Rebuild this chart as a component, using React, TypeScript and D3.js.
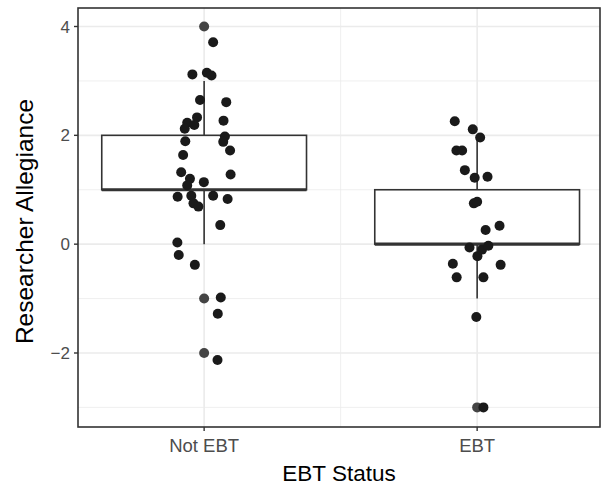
import React from 'react';
import * as d3 from 'd3';

// categories and box statistics
const groups = ["Not EBT", "EBT"];
const lowerWhisker = [0, -1];
const q1 = [1, 0];
const medians = [1, 0];
const q3 = [2, 1];
const upperWhisker = [3, 2];
const outliersNotEbt = [4, -1, -2];
const outliersEbt = [-3];

// jittered points (x offset from group centre, y value)
const notEbtDx = [0.033, -0.043, 0.010, 0.027, -0.015, 0.081, -0.026, -0.062, -0.036, -0.071, 0.071, 0.076, 0.070, 0.095, -0.069, -0.077, -0.084, -0.052, -0.062, -0.001, 0.097, -0.097, -0.047, -0.039, -0.021, 0.033, 0.086, 0.059, -0.098, -0.093, -0.034, 0.061, 0.050, 0.049];
const notEbtY = [3.71, 3.12, 3.15, 3.10, 2.65, 2.61, 2.33, 2.23, 2.19, 2.12, 2.27, 1.98, 1.88, 1.72, 1.89, 1.64, 1.32, 1.20, 1.08, 1.14, 1.28, 0.87, 0.89, 0.75, 0.69, 0.89, 0.83, 0.35, 0.03, -0.20, -0.38, -0.98, -1.28, -2.13];
const ebtDx = [-0.082, -0.016, 0.011, -0.076, -0.055, -0.045, -0.009, 0.038, -0.012, 0.000, 0.031, 0.082, -0.028, 0.001, 0.018, 0.041, -0.089, 0.086, -0.075, 0.023, -0.003, 0.023];
const ebtY = [2.26, 2.11, 1.96, 1.72, 1.72, 1.36, 1.22, 1.24, 0.75, 0.78, 0.26, 0.34, -0.06, -0.22, -0.10, -0.03, -0.36, -0.38, -0.61, -0.61, -1.34, -3.00];

const yTicks = [-2, 0, 2, 4];
const yMinor = [-3, -1, 1, 3];
const xMinor = [1.5];

const width = 602;
const height = 485;
const left = 78, right = 600, top = 8, bottom = 427;

export default function App() {
  const x = d3.scaleLinear().domain([0.538, 2.45]).range([left, right]);
  const y = d3.scaleLinear().domain([-3.36, 4.34]).range([bottom, top]);
  const boxHalf = 0.375;
  const font = "'Liberation Sans', Arial, Helvetica, sans-serif";
  const outliers = [outliersNotEbt, outliersEbt];
  const jitter = [
    notEbtY.map((v, i) => ({ dx: notEbtDx[i], v })),
    ebtY.map((v, i) => ({ dx: ebtDx[i], v })),
  ];

  return (
    <svg width={width} height={height} style={{ position: 'absolute', left: 0, top: 0 }} fontFamily={font}>
      <rect x={0} y={0} width={width} height={height} fill="white" />
      {/* grid */}
      {yMinor.map(t => (
        <line key={'ym' + t} x1={left} x2={right} y1={y(t)} y2={y(t)} stroke="#ebebeb" strokeWidth={0.8} />
      ))}
      {xMinor.map(t => (
        <line key={'xm' + t} x1={x(t)} x2={x(t)} y1={top} y2={bottom} stroke="#ebebeb" strokeWidth={0.8} />
      ))}
      {yTicks.map(t => (
        <line key={'yg' + t} x1={left} x2={right} y1={y(t)} y2={y(t)} stroke="#ebebeb" strokeWidth={1.6} />
      ))}
      {groups.map((g, i) => (
        <line key={'xg' + g} x1={x(i + 1)} x2={x(i + 1)} y1={top} y2={bottom} stroke="#ebebeb" strokeWidth={1.6} />
      ))}
      {/* boxplots */}
      {groups.map((g, i) => {
        const cx = x(i + 1);
        return (
          <g key={'box' + g} stroke="#333333">
            <line x1={cx} x2={cx} y1={y(upperWhisker[i])} y2={y(q3[i])} strokeWidth={1.6} />
            <line x1={cx} x2={cx} y1={y(q1[i])} y2={y(lowerWhisker[i])} strokeWidth={1.6} />
            <rect x={x(i + 1 - boxHalf)} y={y(q3[i])} width={x(i + 1 + boxHalf) - x(i + 1 - boxHalf)}
              height={y(q1[i]) - y(q3[i])} fill="white" strokeWidth={1.6} />
            <line x1={x(i + 1 - boxHalf)} x2={x(i + 1 + boxHalf)} y1={y(medians[i])} y2={y(medians[i])} strokeWidth={3.2} />
            {outliers[i].map((v, j) => (
              <circle key={j} cx={cx} cy={y(v)} r={5} fill="#444444" stroke="none" />
            ))}
          </g>
        );
      })}
      {/* jittered points */}
      {jitter.map((pts, i) => (
        <g key={'pts' + i} fill="#1a1a1a">
          {pts.map((p, j) => (
            <circle key={j} cx={x(i + 1 + p.dx)} cy={y(p.v)} r={5} />
          ))}
        </g>
      ))}
      {/* panel border */}
      <rect x={left} y={top} width={right - left} height={bottom - top} fill="none" stroke="#333333" strokeWidth={1.6} />
      {/* y axis */}
      {yTicks.map(t => (
        <g key={'yt' + t}>
          <line x1={left - 4} x2={left} y1={y(t)} y2={y(t)} stroke="#333333" strokeWidth={1.4} />
          <text x={left - 8} y={y(t)} dy="0.36em" textAnchor="end" fontSize={17} fill="#4d4d4d">
            {t < 0 ? '\u2212' + Math.abs(t) : t}
          </text>
        </g>
      ))}
      {/* x axis */}
      {groups.map((g, i) => (
        <g key={'xt' + g}>
          <line x1={x(i + 1)} x2={x(i + 1)} y1={bottom} y2={bottom + 4} stroke="#333333" strokeWidth={1.4} />
          <text x={x(i + 1)} y={452} textAnchor="middle" fontSize={18.5} fill="#4d4d4d">{g}</text>
        </g>
      ))}
      <text x={(left + right) / 2} y={480.5} textAnchor="middle" fontSize={22.5} fill="black">EBT Status</text>
      <text transform={`translate(33,${(top + bottom) / 2 + 4}) rotate(-90)`} textAnchor="middle" fontSize={24.5} fill="black">
        Researcher Allegiance
      </text>
    </svg>
  );
}
